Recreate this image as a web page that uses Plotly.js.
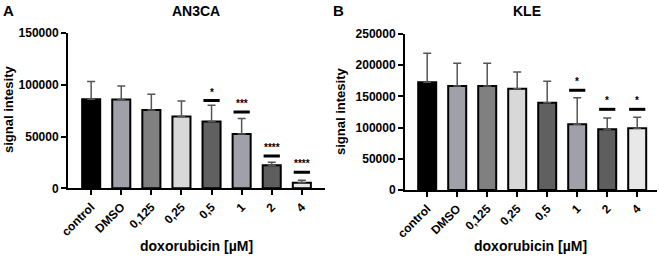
<!DOCTYPE html>
<html>
<head>
<meta charset="utf-8">
<script src="https://cdn.plot.ly/plotly-3.0.1.min.js"></script>
<style>html,body{margin:0;padding:0;background:#fff}#chart{width:659px;height:257px}</style>
</head>
<body>
<div id="chart"></div>
<script>
const categories = ['control', 'DMSO', '0,125', '0,25', '0,5', '1', '2', '4'];
const barColors = ['#000000', '#a0a0a8', '#808080', '#d8d8d8', '#606060', '#a0a0a8', '#5e5e5e', '#e8e8e8'];

const an3caMean = [86100, 85700, 75700, 69300, 64400, 52500, 22200, 5400];
const an3caSD = [17000, 13200, 15200, 15100, 15900, 14800, 2900, 2300];
const an3caSig = ['', '', '', '', '*', '***', '****', '****'];
const an3caSigLevel = [null, null, null, null, 84700, 73800, 31200, 15500];

const kleMean = [172600, 166700, 166700, 162400, 139900, 105300, 97300, 98900];
const kleSD = [46400, 36300, 36300, 26700, 34300, 42600, 18100, 17600];
const kleSig = ['', '', '', '', '', '*', '*', '*'];
const kleSigLevel = [null, null, null, null, null, 159800, 129300, 129300];

const FONT = 'Liberation Sans, Arial, sans-serif';
const W = 659, H = 257;

function barTrace(means, sds, xa, ya) {
  return {
    type: 'bar', x: categories, y: means, xaxis: xa, yaxis: ya,
    width: 0.6,
    marker: { color: barColors, line: { color: '#000', width: 2 } },
    error_y: { type: 'data', symmetric: false, array: sds, arrayminus: sds.map(() => 0),
               color: '#555', thickness: 1.5, width: 4 },
    showlegend: false, hoverinfo: 'skip'
  };
}

const shapes = [], annotations = [];
function addSig(sig, levels, xr, yr) {
  sig.forEach((s, i) => {
    if (!s) return;
    shapes.push({ type: 'line', xref: xr, yref: yr, x0: i - 0.27, x1: i + 0.27,
                  y0: levels[i], y1: levels[i], line: { color: '#000', width: 3 } });
    annotations.push({ xref: xr, yref: yr, x: i, y: levels[i], text: s, showarrow: false,
                       xanchor: 'center', yanchor: 'bottom', yshift: 1,
                       font: { family: FONT, size: 10, color: '#000', weight: 'bold' } });
  });
}
addSig(an3caSig, an3caSigLevel, 'x', 'y');
addSig(kleSig, kleSigLevel, 'x2', 'y2');

function ann(text, x, y, size, opts) {
  annotations.push(Object.assign({ xref: 'paper', yref: 'paper', x: x / W, y: 1 - y / H, text: text,
    xanchor: 'center', yanchor: 'middle',
    showarrow: false, font: { family: FONT, size: size, color: '#000', weight: 'bold' } }, opts || {}));
}
ann('A', 8, 11, 15, {});
ann('AN3CA', 196, 11, 14, {});
ann('B', 338, 11, 15, {});
ann('KLE', 527, 11, 14, {});
ann('signal intesity', 8, 110, 13, { textangle: -90 });
ann('signal intesity', 340, 112, 13, { textangle: -90 });
ann('doxorubicin [µM]', 196, 246, 14, {});
ann('doxorubicin [µM]', 530, 246, 14, {});

const xCommon = {
  type: 'category', showline: true, linecolor: '#000', linewidth: 2,
  ticks: 'outside', ticklen: 5, tickwidth: 2, tickcolor: '#000',
  tickangle: -45, showgrid: false, zeroline: false,
  tickfont: { family: FONT, size: 12, color: '#000', weight: 'bold' }
};
const yCommon = {
  showline: true, linecolor: '#000', linewidth: 2,
  ticks: 'outside', ticklen: 5, tickwidth: 2, tickcolor: '#000',
  showgrid: false, zeroline: false, tickformat: 'd', dtick: 50000,
  tickfont: { family: FONT, size: 12, color: '#000', weight: 'bold' }
};

const layout = {
  width: W, height: H, margin: { l: 0, r: 0, t: 0, b: 0 },
  paper_bgcolor: '#fff', plot_bgcolor: '#fff',
  xaxis: Object.assign({}, xCommon, { domain: [68 / W, 325 / W], range: [-0.77, 7.77], anchor: 'y' }),
  yaxis: Object.assign({}, yCommon, { domain: [1 - 188.3 / H, 1 - 33 / H], range: [0, 150000], anchor: 'x' }),
  xaxis2: Object.assign({}, xCommon, { domain: [405 / W, 657 / W], range: [-0.74, 7.66], anchor: 'y2' }),
  yaxis2: Object.assign({}, yCommon, { domain: [1 - 190 / H, 1 - 34 / H], range: [0, 250000], anchor: 'x2' }),
  shapes: shapes, annotations: annotations, bargap: 0.4
};

Plotly.newPlot('chart', [barTrace(an3caMean, an3caSD, 'x', 'y'), barTrace(kleMean, kleSD, 'x2', 'y2')],
  layout, { staticPlot: true, displayModeBar: false });
</script>
</body>
</html>
